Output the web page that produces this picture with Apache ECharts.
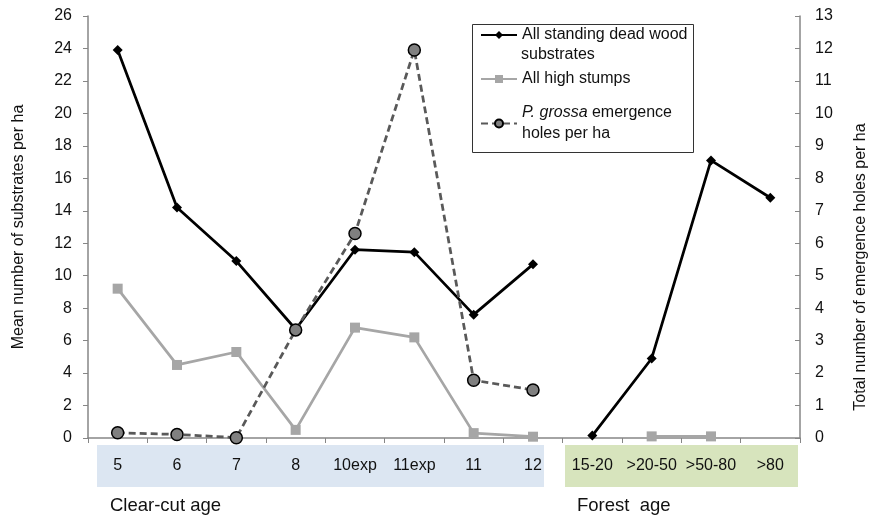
<!DOCTYPE html>
<html>
<head>
<meta charset="utf-8">
<script src="https://cdn.jsdelivr.net/npm/echarts@6/dist/echarts.min.js"></script>
<style>
  html, body { margin: 0; padding: 0; background: #fff; }
  #chart { width: 869px; height: 517px; }
</style>
</head>
<body>
<div id="chart"></div>
<script>
const categories = ['5', '6', '7', '8', '10exp', '11exp', '11', '12', '15-20', '>20-50', '>50-80', '>80'];

// all standing dead wood substrates (left axis), split into clear-cut and forest parts
const standingClearcut = [23.9, 14.2, 10.9, 6.7, 11.6, 11.45, 7.6, 10.7, null, null, null, null];
const standingForest = [null, null, null, null, null, null, null, null, 0.15, 4.9, 17.1, 14.8];

// all high stumps (left axis)
const stumpsClearcut = [9.2, 4.5, 5.3, 0.5, 6.8, 6.2, 0.3, 0.08, null, null, null, null];
const stumpsForest = [null, null, null, null, null, null, null, null, null, 0.1, 0.1, null];

// P. grossa emergence holes per ha (right axis)
const grossaHoles = [0.16, 0.11, 0.01, 3.33, 6.3, 11.95, 1.78, 1.48, null, null, null, null];

const leftTicks = { min: 0, max: 26, interval: 2 };
const rightTicks = { min: 0, max: 13, interval: 1 };

const nameStanding = 'All standing dead wood substrates';
const nameStumps = 'All high stumps';
const nameGrossa = 'P. grossa emergence holes per ha';

const chartInstance = echarts.init(document.getElementById('chart'));

const axisGray = '#868686';
const font = 'Arial, "Liberation Sans", sans-serif';

const standingStyle = {
  type: 'line',
  name: nameStanding,
  yAxisIndex: 0,
  symbol: 'diamond',
  symbolSize: 10,
  lineStyle: { color: '#000', width: 2.75 },
  itemStyle: { color: '#000' },
  connectNulls: false,
  z: 4,
};
const stumpsStyle = {
  type: 'line',
  name: nameStumps,
  yAxisIndex: 0,
  symbol: 'rect',
  symbolSize: 10,
  lineStyle: { color: '#a6a6a6', width: 2.75 },
  itemStyle: { color: '#a6a6a6' },
  connectNulls: false,
  z: 3,
};

// one legend per entry so each line can sit where the original puts it
const legendBase = {
  orient: 'vertical',
  left: 480,
  padding: 0,
  itemWidth: 36,
  itemHeight: 10,
  textStyle: {
    fontSize: 16,
    color: '#111',
    lineHeight: 21,
    rich: { i: { fontStyle: 'italic', fontSize: 16, lineHeight: 21, color: '#111' } },
  },
};

const option = {
  animation: false,
  textStyle: { fontFamily: font },
  grid: { left: 88, right: 69, top: 16, bottom: 79, outerBoundsMode: 'none' },
  graphic: [
    { type: 'rect', z: -10, shape: { x: 97, y: 445, width: 447, height: 42 }, style: { fill: '#dce6f2' } },
    { type: 'rect', z: -10, shape: { x: 565, y: 445, width: 233, height: 42 }, style: { fill: '#d7e4bd' } },
    { type: 'text', left: 110, top: 496, style: { text: 'Clear-cut age', font: '18.5px ' + font, fill: '#111' } },
    { type: 'text', left: 577, top: 496, style: { text: 'Forest  age', font: '18.5px ' + font, fill: '#111' } },
    { type: 'rect', z: 10, shape: { x: 472.5, y: 24.5, width: 221, height: 128 }, style: { fill: '#fff', stroke: '#333', lineWidth: 1 } },
    { type: 'text', z: 11, left: 521, top: 47, style: { text: 'substrates', font: '16px ' + font, fill: '#111' } },
  ],
  legend: [
    { ...legendBase, top: 24.5, data: [nameStanding], formatter: () => 'All standing dead wood', z: 12 },
    { ...legendBase, top: 68.5, data: [nameStumps], z: 12 },
    {
      ...legendBase,
      top: 102.5,
      data: [nameGrossa],
      formatter: () => '{i|P. grossa} emergence\nholes per ha',
      z: 12,
    },
  ],
  xAxis: {
    type: 'category',
    data: categories,
    axisLine: { lineStyle: { color: axisGray, width: 1.5 } },
    axisTick: { show: true, length: 5, lineStyle: { color: axisGray } },
    axisLabel: { margin: 20, fontSize: 16, color: '#111', interval: 0 },
    splitLine: { show: false },
  },
  yAxis: [
    {
      type: 'value',
      position: 'left',
      ...leftTicks,
      name: 'Mean number of substrates per ha',
      nameLocation: 'middle',
      nameRotate: 90,
      nameGap: 61,
      nameTextStyle: { fontSize: 16, color: '#111' },
      axisLine: { show: true, lineStyle: { color: axisGray, width: 1.5 } },
      axisTick: { show: true, length: 5, lineStyle: { color: axisGray } },
      axisLabel: { fontSize: 16, color: '#111', margin: 16 },
      splitLine: { show: false },
    },
    {
      type: 'value',
      position: 'right',
      ...rightTicks,
      name: 'Total number of emergence holes per ha',
      nameLocation: 'middle',
      nameRotate: 90,
      nameGap: 53,
      nameTextStyle: { fontSize: 16, color: '#111', padding: [0, 80, 0, 0] },
      axisLine: { show: true, lineStyle: { color: axisGray, width: 1.5 } },
      axisTick: { show: true, inside: true, length: 5, lineStyle: { color: axisGray } },
      axisLabel: { fontSize: 16, color: '#111', margin: 15 },
      splitLine: { show: false },
    },
  ],
  series: [
    { ...standingStyle, data: standingClearcut },
    { ...standingStyle, data: standingForest },
    { ...stumpsStyle, data: stumpsClearcut },
    { ...stumpsStyle, data: stumpsForest },
    {
      type: 'line',
      name: nameGrossa,
      yAxisIndex: 1,
      data: grossaHoles,
      symbol: 'circle',
      symbolSize: 12,
      lineStyle: { color: '#595959', width: 2.75, type: [7, 4] },
      itemStyle: { color: '#808080', borderColor: '#000', borderWidth: 1.5 },
      connectNulls: false,
      z: 5,
    },
  ],
};

chartInstance.setOption(option);
</script>
</body>
</html>
